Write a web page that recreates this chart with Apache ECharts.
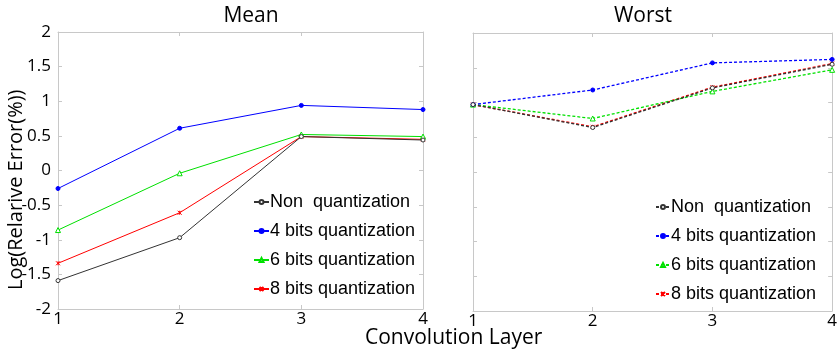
<!DOCTYPE html>
<html>
<head>
<meta charset="utf-8">
<script src="https://cdn.jsdelivr.net/npm/echarts@6/dist/echarts.min.js"></script>
<style>html,body{margin:0;padding:0;background:#fff}#c{width:840px;height:358px}</style>
</head>
<body>
<div id="c"></div>
<script>
var layers = [1, 2, 3, 4];
var xTicks = ['1', '2', '3', '4'];
var seriesLabels = ['Non  quantization', '4 bits quantization', '6 bits quantization', '8 bits quantization'];
var meanNon = [-1.59, -0.97, 0.49, 0.44];
var mean4 = [-0.26, 0.61, 0.94, 0.88];
var mean6 = [-0.86, -0.04, 0.52, 0.49];
var mean8 = [-1.34, -0.61, 0.49, 0.45];
var worstNon = [0.97, 0.64, 1.21, 1.55];
var worst4 = [0.97, 1.18, 1.57, 1.62];
var worst6 = [0.97, 0.77, 1.16, 1.47];
var worst8 = [0.97, 0.65, 1.22, 1.56];

var colors = ['#333333', '#0000ff', '#00e000', '#ff0000'];
var symbols = ['circle', 'circle', 'triangle', 'path://M0,0L10,10M10,0L0,10M5,0L5,10'];
var symbolSizes = [4, 4, 5, 4];
var hollow = [true, false, true, false];

function pairs(ys) { return layers.map(function (x, i) { return [x, ys[i]]; }); }

var chart = echarts.init(document.getElementById('c'));
var axisGray = '#c8c8c8';
var tickFont = 'Open Sans';

function xAx(grid, pos, showLabel) {
  return {
    gridIndex: grid, type: 'value', min: 1, max: 4, interval: 1, position: pos,
    axisLine: { show: true, onZero: false, lineStyle: { color: axisGray, width: 1 } },
    axisTick: { show: true, inside: true, length: 4, lineStyle: { color: axisGray } },
    splitLine: { show: false },
    axisLabel: { show: showLabel, color: '#000', fontSize: 17, fontFamily: tickFont, margin: 2,
      formatter: function (v) { return xTicks[layers.indexOf(v)]; } }
  };
}
function yAx(grid, pos, showLabel) {
  return {
    gridIndex: grid, type: 'value', min: -2, max: 2, interval: 0.5, position: pos,
    axisLine: { show: true, onZero: false, lineStyle: { color: axisGray, width: 1 } },
    axisTick: { show: true, inside: true, length: 4, lineStyle: { color: axisGray } },
    splitLine: { show: false },
    axisLabel: { show: showLabel, color: '#000', fontSize: 17, fontFamily: tickFont, margin: 7 }
  };
}

var meanData = [meanNon, mean4, mean6, mean8];
var worstData = [worstNon, worst4, worst6, worst8];
var series = [];
var keysMean = ['m0', 'm1', 'm2', 'm3'];
var keysWorst = ['w0', 'w1', 'w2', 'w3'];
for (var i = 0; i < 4; i++) {
  series.push({
    name: keysMean[i], type: 'line', xAxisIndex: 0, yAxisIndex: 0,
    data: pairs(meanData[i]), symbol: symbols[i], symbolSize: symbolSizes[i],
    lineStyle: { color: colors[i], width: 1 },
    itemStyle: { color: hollow[i] ? '#fff' : colors[i], borderColor: colors[i], borderWidth: 1 },
    z: 4 - i, animation: false
  });
  series.push({
    name: keysWorst[i], type: 'line', xAxisIndex: 2, yAxisIndex: 2,
    data: pairs(worstData[i]), symbol: symbols[i], symbolSize: symbolSizes[i],
    lineStyle: { color: colors[i], width: 1.3, type: [3, 2] },
    itemStyle: { color: hollow[i] ? '#fff' : colors[i], borderColor: colors[i], borderWidth: 1 },
    z: 4 - i, animation: false
  });
}

function legendFmt(name) { return seriesLabels[parseInt(name.charAt(1), 10)]; }
var legendText = { color: '#000', fontSize: 18, fontFamily: 'Liberation Sans', padding: [0, 0, 0, -4] };

chart.setOption({
  backgroundColor: '#fff',
  animation: false,
  title: [
    { text: 'Mean', left: 246, top: 1, textAlign: 'center', textStyle: { fontSize: 21, fontWeight: 'normal', fontFamily: tickFont, color: '#000' } },
    { text: 'Worst', left: 638, top: 1, textAlign: 'center', textStyle: { fontSize: 21, fontWeight: 'normal', fontFamily: tickFont, color: '#000' } }
  ],
  grid: [
    { left: 58, right: 417, top: 32, bottom: 49 },
    { left: 473, right: 2, top: 33, bottom: 47 }
  ],
  xAxis: [xAx(0, 'bottom', true), xAx(0, 'top', false), xAx(1, 'bottom', true), xAx(1, 'top', false)],
  yAxis: [yAx(0, 'left', true), yAx(0, 'right', false), yAx(1, 'left', false), yAx(1, 'right', false)],
  legend: [
    { data: keysMean, orient: 'vertical', left: 253, top: 193, itemWidth: 15, itemHeight: 5, itemGap: 11,
      formatter: legendFmt, textStyle: legendText, padding: 0 },
    { data: keysWorst, orient: 'vertical', left: 655, top: 198, itemWidth: 14, itemHeight: 5, itemGap: 11,
      formatter: legendFmt, textStyle: legendText, padding: 0 }
  ],
  graphic: [
    { type: 'text', x: 365, y: 328, style: { text: 'Convolution Layer', fontSize: 21, fontFamily: tickFont, fill: '#000' } },
    { type: 'text', x: 6, y: 290, rotation: Math.PI / 2, style: { text: 'Log(Relarive Error(%))', fontSize: 20, fontFamily: tickFont, fill: '#000' } }
  ],
  series: series
});
</script>
</body>
</html>
